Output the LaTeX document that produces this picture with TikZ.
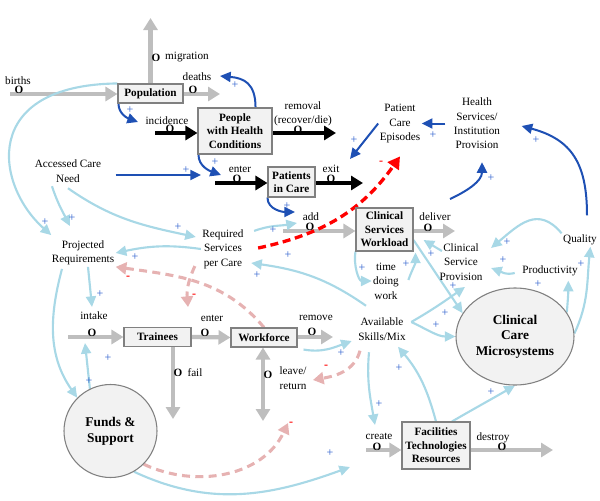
\documentclass[tikz,border=0pt]{standalone}
\usepackage{fontspec}
\setmainfont{Liberation Serif}
\usetikzlibrary{arrows.meta,shapes.geometric,calc}
\definecolor{dblue}{RGB}{30,80,180}
\definecolor{lblue}{RGB}{168,216,230}
\definecolor{flowgray}{RGB}{190,190,190}
\definecolor{pinkd}{RGB}{230,178,178}
\definecolor{plusblue}{RGB}{45,95,205}
\definecolor{boxfill}{RGB}{242,242,242}
\definecolor{boxdraw}{RGB}{128,128,128}
\pgfdeclarelayer{bg}
\pgfsetlayers{bg,main}
\begin{document}
\begin{tikzpicture}[x=0.75pt,y=0.75pt,
  stock/.style 2 args={draw=boxdraw, fill=boxfill, line width=0.8pt,
    font=\bfseries\fontsize{8.4}{10.1}\selectfont, align=center, inner sep=0pt,
    minimum width=#1*0.75pt, minimum height=#2*0.75pt},
  bigstock/.style={draw=boxdraw, fill=boxfill, line width=0.8pt,
    font=\bfseries\fontsize{10}{11.6}\selectfont, align=center, inner sep=0pt},
  txt/.style={font=\fontsize{8.4}{10.8}\selectfont, align=center, inner sep=1pt},
  oval/.style={font=\bfseries\fontsize{8.4}{10}\selectfont, inner sep=0pt},
  plus/.style={text=plusblue, font=\fontsize{9}{10}\selectfont, inner sep=0pt},
  minus/.style={text=red, font=\bfseries\fontsize{9}{10}\selectfont, inner sep=0pt},
  flow/.style={draw=flowgray, line width=3.2pt, -{Triangle[length=9pt,width=10.5pt]}},
  bflow/.style={draw=black, line width=2.8pt, -{Triangle[length=9pt,width=10.5pt]}},
  dbl/.style={draw=dblue, line width=1.5pt, -{Triangle[length=8pt,width=7.5pt]}},
  lbl/.style={draw=lblue, line width=1.6pt, -{Triangle[length=8pt,width=7.5pt]}},
  pdash/.style={draw=pinkd, line width=2.3pt, dash pattern=on 6pt off 4pt, -{Triangle[length=8pt,width=9pt]}},
  rdash/.style={draw=red, line width=2.5pt, dash pattern=on 6pt off 3.5pt, -{Triangle[length=9pt,width=10pt]}}
]
\useasboundingbox (0,0) rectangle (600,-500);

% stocks
\node[stock={65}{19}] (pop) at (150.5,-93.5) {Population};
\node[stock={74}{46}] (phc) at (235,-131) {People\\with Health\\Conditions};
\node[stock={47}{30}] (pic) at (291.5,-182) {Patients\\in Care};
\node[stock={57}{43}] (csw) at (384.5,-229.5) {Clinical\\Services\\Workload};
\node[stock={67}{19}] (trn) at (157.5,-337) {Trainees};
\node[stock={66}{19}] (wf) at (264,-337.5) {Workforce};
\node[stock={68}{47}] (ftr) at (436,-445.5) {Facilities\\Technologies\\Resources};
\node[bigstock, ellipse, minimum width=118*0.75pt, minimum height=97*0.75pt] (ccm) at (515,-336.5) {Clinical\\Care\\Microsystems};
\node[bigstock, circle, minimum size=93*0.75pt, font=\bfseries\fontsize{10}{12}\selectfont] (fas) at (110.5,-431) {Funds \&\\Support};

% variables
\node[txt] (acn) at (68,-171) {Accessed Care\\Need};
\node[txt] (prq) at (83,-253) {Projected\\Requirements};
\node[txt] (rsp) at (223,-249) {Required\\Services\\per Care};
\node[txt] (pce) at (400,-123.5) {Patient\\Care\\Episodes};
\node[txt] (hsp) at (477,-123.5) {Health\\Services/\\Institution\\Provision};
\node[txt] (tdw) at (386,-281) {time\\doing\\work};
\node[txt] (csp) at (461,-262) {Clinical\\Service\\Provision};
\node[txt] (prd) at (550,-271) {Productivity};
\node[txt] (qual) at (580,-240) {Quality};
\node[txt] (avs) at (382,-329) {Available\\Skills/Mix};

% flow labels
\node[txt] (lbirths) at (18,-81) {births};
\node[txt] (lmig) at (187,-57) {migration};
\node[txt] (ldeaths) at (197,-77) {deaths};
\node[txt] (linc) at (167,-121) {incidence};
\node[txt] (lrem) at (303,-114) {removal\\(recover/die)};
\node[txt] (lenter) at (240,-169) {enter};
\node[txt] (lexit) at (331,-169) {exit};
\node[txt] (ladd) at (311,-217) {add};
\node[txt] (ldel) at (435,-217) {deliver};
\node[txt] (lint) at (94,-316) {intake};
\node[txt] (lenter2) at (212,-318) {enter};
\node[txt] (lremove) at (316,-318) {remove};
\node[txt] (lfail) at (195,-373) {fail};
\node[txt] (lr) at (293,-378) {leave/\\return};
\node[txt] (lcreate) at (379,-436) {create};
\node[txt] (ldestroy) at (493,-438) {destroy};

% valve O marks
\foreach \xa/\ya [count=\i] in {19/90, 156/58, 193/90, 170/129, 298/130, 237/179, 331/179,
    310/227, 428/228, 92/333, 205/333, 312/332, 178/373, 268/375, 377/447, 502/447}
  \node[oval] (o\i) at (\xa,-\ya) {O};

% polarity marks
\foreach \xa/\ya [count=\i] in {130/110, 235/85, 215/162, 186/170, 354/140, 433/135, 491/178,
    536/140, 287/206, 273/230, 288/255, 257/275, 178/227, 135/257, 45/222, 72/218, 100/294,
    108/358, 89/381, 362/268, 406/264, 431/254, 507/242, 503/260, 581/264, 538/284, 453/286,
    445/313, 436/325, 341/353, 379/404, 399/368, 491/392, 330/453}
  \node[plus] (plus\i) at (\xa,-\ya) {+};
\foreach \xa/\ya [count=\i] in {381/163, 128/278, 194/296, 326/367, 291/424}
  \node[minus] (minus\i) at (\xa,-\ya) {-};

% free ends
\coordinate (bsrc) at (10,-94);
\coordinate (migt) at (150.5,-18);
\coordinate (dtht) at (220,-94);
\coordinate (incs) at (155,-133);
\coordinate (remt) at (336,-133);
\coordinate (ents) at (215,-183);
\coordinate (exitt) at (363,-183);
\coordinate (adds) at (283,-231);
\coordinate (delt) at (455,-231);
\coordinate (ints) at (68,-337);
\coordinate (remvt) at (333,-337);
\coordinate (failt) at (173,-419);
\coordinate (lrt) at (263,-421);
\coordinate (creas) at (366,-450);
\coordinate (dest) at (553,-450);
\coordinate (incv) at (138,-122);
\coordinate (dthv) at (220,-76);
\coordinate (entv) at (221,-175);
\coordinate (entv0) at (201,-175);
\coordinate (exv) at (350,-159);
\coordinate (delv) at (450,-199);
\coordinate (addv) at (295,-212);
\coordinate (addv2) at (297,-223);
\coordinate (intkv) at (92,-307);
\coordinate (intkv2) at (85,-343);
\coordinate (crev) at (375,-425);
\coordinate (crev2) at (350,-467);
\coordinate (entv2) at (188,-307);
\coordinate (lrv) at (288,-423);

\begin{pgfonlayer}{bg}
% flows
\draw[flow] (bsrc) -- (bsrc -| pop.west);
\draw[flow] (pop.north) -- (migt);
\draw[flow] (dtht -| pop.east) -- (dtht);
\draw[bflow] (incs) -- (incs -| phc.west);
\draw[bflow] (remt -| phc.east) -- (remt);
\draw[bflow] (ents) -- (ents -| pic.west);
\draw[bflow] (exitt -| pic.east) -- (exitt);
\draw[flow] (adds) -- (adds -| csw.west);
\draw[flow] (delt -| csw.east) -- (delt);
\draw[flow] (ints) -- (ints -| trn.west);
\draw[flow] (trn.east) -- (wf.west);
\draw[flow] (remvt -| wf.east) -- (remvt);
\draw[flow] (failt |- trn.south) -- (failt);
\draw[flow, {Triangle[length=9pt,width=10.5pt]}-{Triangle[length=9pt,width=10.5pt]}] (lrt |- wf.south) -- (lrt);
\draw[flow] (creas) -- (creas -| ftr.west);
\draw[flow] (dest -| ftr.east) -- (dest);

% dark blue links
\draw[dbl] ($(pop.south west)+(1,0)$) to[out=-90,in=160] (incv);
\draw[dbl] ($(phc.north east)+(-17,0)$) to[out=90,in=-5,looseness=1.3] (dthv);
\draw[dbl] ($(phc.south west)+(1,0)$) to[out=-90,in=160] (entv);
\draw[dbl] ($(acn.east)+(13,-4)$) -- (entv0);
\draw[dbl] ($(hsp.west)+(-7,0)$) -- (pce.east);
\draw[dbl] (pce.west) -- (exv);
\draw[dbl] (delv) to[out=25,in=-90] ($(hsp.south)+(5,-11.5)$);
\draw[dbl] ($(qual.north)+(7,18)$) to[out=90,in=-15,looseness=1.2] ($(hsp.east)+(20,-2.5)$);
\draw[dbl] (pic.south west) to[out=-90,in=180] (addv);

% light blue links
\draw[lbl] (pop.north west) .. controls (-20,-85) and (-5,-185) .. ($(prq.north west)+(1,4)$);
\draw[lbl] ($(acn.south)+(-16,-2.5)$) to[out=-72,in=117] ($(prq.north)+(-13,13)$);
\draw[lbl] ($(acn.south)+(0,-4.5)$) to[out=-35,in=168] ($(rsp.west)+(-5,12)$);
\draw[lbl] (rsp.west) to[out=172,in=12] (prq.east);
\draw[lbl] ($(rsp.north east)+(9,-3)$) to[out=20,in=190] (addv2);
\draw[lbl] ($(avs.north)+(-16,10.5)$) to[out=145,in=-8] ($(rsp.east)+(6,-14)$);
\draw[lbl] ($(prq.south)+(5,0)$) -- (intkv);
\draw[lbl] ($(prq.south)+(-21,-2)$) to[out=-105,in=125] (fas.135);
\draw[lbl] (fas.116) -- (intkv2);
\draw[lbl] (csw.south west) to[out=-100,in=180] (tdw.west);
\draw[lbl] ($(tdw.east)+(8,1)$) to[out=70,in=-90] ($(csw.south east)+(2,-1)$);
\draw[lbl] ($(csp.north west)+(4,-9)$) -- ($(csw.east)+(10,-10.5)$);
\draw[lbl] ($(csw.east)+(0,-10.5)$) -- (ccm.156);
\draw[lbl] ($(avs.east)+(4,7)$) to[out=30,in=-145] ($(csp.south)+(4,-5)$);
\draw[lbl] ($(avs.east)+(4,7)$) to[out=-25,in=180] (ccm.west);
\draw[lbl] ($(wf.south east)+(6,-2)$) to[out=-10,in=-160] ($(avs.west)+(-5,-12)$);
\draw[lbl] ($(avs.south)+(-13,-10.5)$) to[out=-95,in=100] (crev);
\draw[lbl] (ftr.north) to[out=105,in=-50] ($(avs.south)+(16,-5)$);
\draw[lbl] ($(ftr.north)+(16,0)$) to[out=30,in=-150] (ccm.south);
\draw[lbl] (fas.-60) to[out=-25,in=-160] (crev2);
\draw[lbl] (ccm.25) to[out=85,in=-90] ($(prd.south east)+(-11,-3)$);
\draw[lbl] (ccm.3) to[out=65,in=-96] ($(qual.south east)+(-8,0)$);
\draw[lbl] ($(prd.west)+(-6,-2)$) to[out=195,in=-20] ($(csp.east)+(7,-6)$);
\draw[lbl] (qual.north west) to[out=130,in=40,looseness=1.3] ($(csp.east)+(7,14)$);

% pink dashed links
\draw[pdash] ($(rsp.south west)+(-6,4)$) to[out=-115,in=95] (entv2);
\draw[pdash] (wf.north) to[out=130,in=-8] (prq.south east);
\draw[pdash] (fas.-45) to[out=-25,in=-115] (lrv);
\draw[pdash] ($(avs.south)+(-22,-9)$) to[out=-105,in=10] ($(lr.east)+(5,-2)$);

% red dashed link
\draw[rdash] ($(rsp.east)+(13,1)$) to[out=12,in=-125] ($(pce.south)+(0,-12)$);
\end{pgfonlayer}
\end{tikzpicture}
\end{document}
